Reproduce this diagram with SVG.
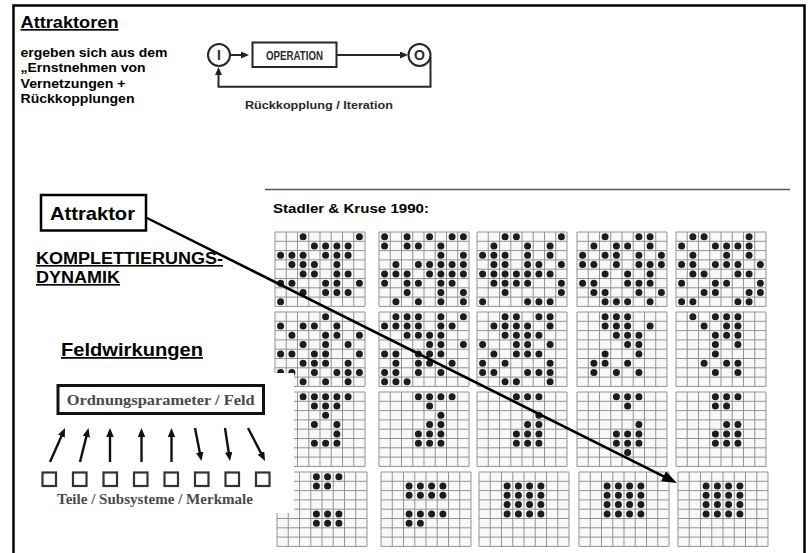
<svg xmlns="http://www.w3.org/2000/svg" xmlns:xlink="http://www.w3.org/1999/xlink" width="811" height="553" viewBox="0 0 811 553">
<style>
.t{font-family:"Liberation Sans",Arial,Helvetica,sans-serif;font-weight:bold;fill:#000}
.u{text-decoration:underline}
.op{fill:#2a2a2a}
.sf{font-family:"Liberation Serif","Times New Roman",serif;font-weight:bold;fill:#4a4a4a}
.dots{fill:none;stroke:#1c1c1c;stroke-width:7;stroke-linecap:round}
.gl{fill:none;stroke:#939393;stroke-width:1}
.opl{fill:none;stroke:#262626;stroke-width:2}
.pa{fill:none;stroke:#111;stroke-width:2.4}
.sq{fill:#fff;stroke:#333;stroke-width:2.2}
</style>
<defs>
<g id="grid"><rect width="90" height="74.4" fill="#f8f8f8"/><path class="gl" d="M0 0v74.4M11.25 0v74.4M22.5 0v74.4M33.75 0v74.4M45 0v74.4M56.25 0v74.4M67.5 0v74.4M78.75 0v74.4M90 0v74.4M0 0h90M0 9.3h90M0 18.6h90M0 27.9h90M0 37.2h90M0 46.5h90M0 55.8h90M0 65.1h90M0 74.4h90"/></g>
<marker id="ahb" viewBox="0 0 15 11" refX="9" refY="5.5" markerWidth="15" markerHeight="11" markerUnits="userSpaceOnUse" orient="auto"><path d="M0 0L15 5.5L0 11z" fill="#000"/></marker>
<marker id="ahs" viewBox="0 0 8 7" refX="4" refY="3.5" markerWidth="8" markerHeight="7" markerUnits="userSpaceOnUse" orient="auto"><path d="M0 0L8 3.5L0 7z" fill="#222"/></marker>
<marker id="ahp" viewBox="0 0 9 7.5" refX="5" refY="3.75" markerWidth="9" markerHeight="7.5" markerUnits="userSpaceOnUse" orient="auto"><path d="M0 0L9 3.75L0 7.5z" fill="#111"/></marker>
</defs>
<rect width="811" height="553" fill="#fff"/>
<path d="M13.5 553V5.5H804.5V553" fill="none" stroke="#000" stroke-width="2.5"/>

<g id="title">
<text class="t u" x="20.5" y="28" font-size="16.5" textLength="98" lengthAdjust="spacingAndGlyphs">Attraktoren</text>
<text class="t" x="20.5" y="56.5" font-size="13" textLength="147" lengthAdjust="spacingAndGlyphs">ergeben sich aus dem</text>
<text class="t" x="20.5" y="72" font-size="13" textLength="125" lengthAdjust="spacingAndGlyphs">„Ernstnehmen von</text>
<text class="t" x="20.5" y="87.5" font-size="13" textLength="105" lengthAdjust="spacingAndGlyphs">Vernetzungen +</text>
<text class="t" x="20.5" y="103" font-size="13" textLength="114" lengthAdjust="spacingAndGlyphs">Rückkopplungen</text>
</g>

<g id="node-input">
<circle class="opl" cx="219" cy="55" r="11" fill="#fff"/>
<text class="t op" x="219" y="60" font-size="14" text-anchor="middle">I</text>
</g>
<g id="node-operation">
<rect class="opl" x="252.5" y="42.5" width="84" height="24.5" fill="#fff"/>
<text class="t op" x="294.5" y="59.5" font-size="12" text-anchor="middle" textLength="57" lengthAdjust="spacingAndGlyphs">OPERATION</text>
</g>
<g id="node-output">
<circle class="opl" cx="419.5" cy="55" r="11" fill="#fff"/>
<text class="t op" x="419.5" y="60" font-size="14" text-anchor="middle">O</text>
</g>
<g id="label-feedback">
<text class="t op" x="245" y="109" font-size="11" textLength="148" lengthAdjust="spacingAndGlyphs">Rückkopplung / Iteration</text>
</g>

<g id="node-attraktor">
<rect x="41" y="195" width="105" height="35.5" fill="#fff" stroke="#000" stroke-width="2.5"/>
<text class="t" x="50" y="220" font-size="18.5" textLength="85" lengthAdjust="spacingAndGlyphs">Attraktor</text>
</g>
<g id="komplettierung">
<text class="t u" x="36" y="264" font-size="16" textLength="187" lengthAdjust="spacingAndGlyphs">KOMPLETTIERUNGS-</text>
<text class="t u" x="36" y="283" font-size="16" textLength="84" lengthAdjust="spacingAndGlyphs">DYNAMIK</text>
</g>
<g id="feldwirkungen-title">
<text class="t u" x="61" y="356" font-size="17.5" textLength="142" lengthAdjust="spacingAndGlyphs">Feldwirkungen</text>
</g>

<g id="stadler">
<line x1="265" y1="189.5" x2="790" y2="189.5" stroke="#555" stroke-width="1.5"/>
<text class="t" x="273" y="213" font-size="13.5" textLength="156" lengthAdjust="spacingAndGlyphs">Stadler &amp; Kruse 1990:</text>
</g>

<g id="grid-1-1" transform="translate(275,232)"><use xlink:href="#grid" href="#grid"/><path class="dots" d="M28.1 4.7h0M84.4 4.7h0M39.4 14h0M50.6 14h0M61.9 14h0M73.1 14h0M5.6 23.3h0M16.9 23.3h0M28.1 23.3h0M50.6 23.3h0M61.9 23.3h0M73.1 23.3h0M16.9 32.6h0M28.1 32.6h0M39.4 32.6h0M61.9 32.6h0M28.1 41.9h0M39.4 41.9h0M61.9 41.9h0M73.1 41.9h0M5.6 51.2h0M16.9 51.2h0M50.6 51.2h0M61.9 51.2h0M84.4 51.2h0M28.1 60.5h0M50.6 60.5h0M61.9 60.5h0M73.1 60.5h0M5.6 69.8h0"/></g>
<g id="grid-1-2" transform="translate(379,232)"><use xlink:href="#grid" href="#grid"/><path class="dots" d="M5.6 4.7h0M28.1 4.7h0M50.6 4.7h0M73.1 4.7h0M84.4 4.7h0M5.6 14h0M28.1 14h0M39.4 14h0M61.9 14h0M61.9 23.3h0M84.4 23.3h0M16.9 32.6h0M39.4 32.6h0M50.6 32.6h0M61.9 32.6h0M73.1 32.6h0M84.4 32.6h0M5.6 41.9h0M16.9 41.9h0M28.1 41.9h0M50.6 41.9h0M61.9 41.9h0M73.1 41.9h0M84.4 41.9h0M5.6 51.2h0M28.1 51.2h0M39.4 51.2h0M61.9 51.2h0M73.1 51.2h0M28.1 60.5h0M61.9 60.5h0M84.4 60.5h0M16.9 69.8h0M39.4 69.8h0M61.9 69.8h0M84.4 69.8h0"/></g>
<g id="grid-1-3" transform="translate(477,232)"><use xlink:href="#grid" href="#grid"/><path class="dots" d="M28.1 4.7h0M39.4 4.7h0M84.4 4.7h0M16.9 14h0M50.6 14h0M73.1 14h0M5.6 23.3h0M16.9 23.3h0M28.1 23.3h0M50.6 23.3h0M73.1 23.3h0M16.9 32.6h0M28.1 32.6h0M50.6 32.6h0M61.9 32.6h0M84.4 32.6h0M5.6 41.9h0M16.9 41.9h0M28.1 41.9h0M39.4 41.9h0M50.6 41.9h0M61.9 41.9h0M73.1 41.9h0M16.9 51.2h0M28.1 51.2h0M39.4 51.2h0M50.6 51.2h0M84.4 51.2h0M28.1 60.5h0M84.4 60.5h0M5.6 69.8h0M50.6 69.8h0M61.9 69.8h0M73.1 69.8h0"/></g>
<g id="grid-1-4" transform="translate(577,232)"><use xlink:href="#grid" href="#grid"/><path class="dots" d="M28.1 4.7h0M61.9 4.7h0M73.1 4.7h0M16.9 14h0M39.4 14h0M50.6 14h0M73.1 14h0M5.6 23.3h0M28.1 23.3h0M39.4 23.3h0M61.9 23.3h0M84.4 23.3h0M5.6 32.6h0M16.9 32.6h0M39.4 32.6h0M61.9 32.6h0M73.1 32.6h0M84.4 32.6h0M28.1 41.9h0M50.6 41.9h0M73.1 41.9h0M5.6 51.2h0M16.9 51.2h0M50.6 51.2h0M61.9 51.2h0M73.1 51.2h0M16.9 60.5h0M28.1 60.5h0M61.9 60.5h0M84.4 60.5h0M28.1 69.8h0M39.4 69.8h0M50.6 69.8h0M73.1 69.8h0"/></g>
<g id="grid-1-5" transform="translate(676,232)"><use xlink:href="#grid" href="#grid"/><path class="dots" d="M16.9 4.7h0M28.1 4.7h0M73.1 4.7h0M5.6 14h0M39.4 14h0M50.6 14h0M61.9 14h0M73.1 14h0M16.9 23.3h0M50.6 23.3h0M73.1 23.3h0M5.6 32.6h0M16.9 32.6h0M39.4 32.6h0M50.6 32.6h0M61.9 32.6h0M84.4 32.6h0M16.9 41.9h0M28.1 41.9h0M61.9 41.9h0M73.1 41.9h0M5.6 51.2h0M39.4 51.2h0M50.6 51.2h0M84.4 51.2h0M28.1 60.5h0M39.4 60.5h0M73.1 60.5h0M84.4 60.5h0M5.6 69.8h0M16.9 69.8h0M61.9 69.8h0M73.1 69.8h0"/></g>

<g id="grid-2-1" transform="translate(275,312)"><use xlink:href="#grid" href="#grid"/><path class="dots" d="M50.6 4.7h0M5.6 14h0M28.1 14h0M39.4 14h0M61.9 14h0M16.9 23.3h0M50.6 23.3h0M61.9 23.3h0M84.4 23.3h0M28.1 32.6h0M50.6 32.6h0M73.1 32.6h0M5.6 41.9h0M16.9 41.9h0M39.4 41.9h0M50.6 41.9h0M84.4 41.9h0M28.1 51.2h0M39.4 51.2h0M50.6 51.2h0M73.1 51.2h0M5.6 60.5h0M16.9 60.5h0M39.4 60.5h0M61.9 60.5h0M73.1 60.5h0M84.4 60.5h0M28.1 69.8h0M50.6 69.8h0M73.1 69.8h0"/></g>
<g id="grid-2-2" transform="translate(379,312)"><use xlink:href="#grid" href="#grid"/><path class="dots" d="M16.9 4.7h0M28.1 4.7h0M39.4 4.7h0M61.9 4.7h0M84.4 4.7h0M5.6 14h0M16.9 14h0M28.1 14h0M39.4 14h0M61.9 14h0M73.1 14h0M28.1 23.3h0M39.4 23.3h0M50.6 23.3h0M61.9 23.3h0M50.6 32.6h0M61.9 32.6h0M84.4 32.6h0M5.6 41.9h0M16.9 41.9h0M39.4 41.9h0M50.6 41.9h0M61.9 41.9h0M16.9 51.2h0M39.4 51.2h0M50.6 51.2h0M73.1 51.2h0M5.6 60.5h0M16.9 60.5h0M39.4 60.5h0M61.9 60.5h0M5.6 69.8h0M16.9 69.8h0M28.1 69.8h0"/></g>
<g id="grid-2-3" transform="translate(477,312)"><use xlink:href="#grid" href="#grid"/><path class="dots" d="M28.1 4.7h0M39.4 4.7h0M61.9 4.7h0M73.1 4.7h0M16.9 14h0M28.1 14h0M39.4 14h0M50.6 14h0M73.1 14h0M28.1 23.3h0M39.4 23.3h0M50.6 23.3h0M61.9 23.3h0M5.6 32.6h0M39.4 32.6h0M50.6 32.6h0M73.1 32.6h0M16.9 41.9h0M39.4 41.9h0M50.6 41.9h0M61.9 41.9h0M5.6 51.2h0M28.1 51.2h0M73.1 51.2h0M5.6 60.5h0M16.9 60.5h0M50.6 60.5h0M61.9 60.5h0M73.1 60.5h0M28.1 69.8h0M39.4 69.8h0M73.1 69.8h0"/></g>
<g id="grid-2-4" transform="translate(577,312)"><use xlink:href="#grid" href="#grid"/><path class="dots" d="M28.1 4.7h0M39.4 4.7h0M50.6 4.7h0M28.1 14h0M39.4 14h0M50.6 14h0M73.1 14h0M39.4 23.3h0M50.6 23.3h0M61.9 23.3h0M50.6 32.6h0M61.9 32.6h0M28.1 41.9h0M61.9 41.9h0M16.9 51.2h0M28.1 51.2h0M50.6 51.2h0M16.9 60.5h0M39.4 60.5h0M61.9 60.5h0"/></g>
<g id="grid-2-5" transform="translate(676,312)"><use xlink:href="#grid" href="#grid"/><path class="dots" d="M16.9 4.7h0M39.4 4.7h0M50.6 4.7h0M61.9 4.7h0M28.1 14h0M50.6 14h0M61.9 14h0M39.4 23.3h0M50.6 23.3h0M61.9 23.3h0M39.4 32.6h0M61.9 32.6h0M39.4 41.9h0M28.1 51.2h0M50.6 51.2h0M61.9 51.2h0M39.4 60.5h0M61.9 60.5h0"/></g>

<g id="grid-3-1" transform="translate(275,392)"><use xlink:href="#grid" href="#grid"/><path class="dots" d="M28.1 4.7h0M39.4 4.7h0M50.6 4.7h0M61.9 4.7h0M73.1 4.7h0M39.4 14h0M50.6 14h0M61.9 14h0M50.6 23.3h0M39.4 32.6h0M61.9 32.6h0M61.9 41.9h0M39.4 51.2h0M50.6 51.2h0M61.9 51.2h0"/></g>
<g id="grid-3-2" transform="translate(379,392)"><use xlink:href="#grid" href="#grid"/><path class="dots" d="M39.4 4.7h0M50.6 4.7h0M61.9 4.7h0M73.1 4.7h0M50.6 14h0M61.9 23.3h0M50.6 32.6h0M61.9 32.6h0M39.4 41.9h0M50.6 41.9h0M61.9 41.9h0M39.4 51.2h0M50.6 51.2h0M61.9 51.2h0"/></g>
<g id="grid-3-3" transform="translate(477,392)"><use xlink:href="#grid" href="#grid"/><path class="dots" d="M39.4 4.7h0M50.6 4.7h0M61.9 4.7h0M61.9 23.3h0M50.6 32.6h0M61.9 32.6h0M39.4 41.9h0M50.6 41.9h0M61.9 41.9h0M39.4 51.2h0M50.6 51.2h0M61.9 51.2h0"/></g>
<g id="grid-3-4" transform="translate(577,392)"><use xlink:href="#grid" href="#grid"/><path class="dots" d="M39.4 4.7h0M50.6 4.7h0M61.9 4.7h0M50.6 14h0M61.9 32.6h0M39.4 41.9h0M50.6 41.9h0M61.9 41.9h0M39.4 51.2h0M50.6 51.2h0M61.9 51.2h0M50.6 60.5h0"/></g>
<g id="grid-3-5" transform="translate(676,392)"><use xlink:href="#grid" href="#grid"/><path class="dots" d="M39.4 4.7h0M50.6 4.7h0M61.9 4.7h0M39.4 14h0M50.6 14h0M50.6 32.6h0M61.9 32.6h0M39.4 41.9h0M50.6 41.9h0M61.9 41.9h0M39.4 51.2h0M50.6 51.2h0M61.9 51.2h0"/></g>

<g id="grid-4-1" transform="translate(277,472)"><use xlink:href="#grid" href="#grid"/><path class="dots" d="M39.4 4.7h0M50.6 4.7h0M61.9 4.7h0M39.4 14h0M50.6 14h0M39.4 41.9h0M50.6 41.9h0M61.9 41.9h0M39.4 51.2h0M50.6 51.2h0M61.9 51.2h0"/></g>
<g id="grid-4-2" transform="translate(381,472)"><use xlink:href="#grid" href="#grid"/><path class="dots" d="M28.1 14h0M39.4 14h0M50.6 14h0M61.9 14h0M28.1 23.3h0M39.4 23.3h0M50.6 23.3h0M61.9 23.3h0M28.1 41.9h0M39.4 41.9h0M50.6 41.9h0M61.9 41.9h0M28.1 51.2h0M39.4 51.2h0"/></g>
<g id="grid-4-3" transform="translate(479,472)"><use xlink:href="#grid" href="#grid"/><path class="dots" d="M28.1 14h0M39.4 14h0M50.6 14h0M61.9 14h0M28.1 23.3h0M39.4 23.3h0M50.6 23.3h0M61.9 23.3h0M28.1 32.6h0M39.4 32.6h0M50.6 32.6h0M61.9 32.6h0M28.1 41.9h0M39.4 41.9h0M50.6 41.9h0M61.9 41.9h0"/></g>
<g id="grid-4-4" transform="translate(579,472)"><use xlink:href="#grid" href="#grid"/><path class="dots" d="M28.1 14h0M39.4 14h0M50.6 14h0M61.9 14h0M28.1 23.3h0M39.4 23.3h0M50.6 23.3h0M61.9 23.3h0M28.1 32.6h0M39.4 32.6h0M50.6 32.6h0M61.9 32.6h0M28.1 41.9h0M39.4 41.9h0M50.6 41.9h0M61.9 41.9h0"/></g>
<g id="grid-4-5" transform="translate(678,472)"><use xlink:href="#grid" href="#grid"/><path class="dots" d="M28.1 14h0M39.4 14h0M50.6 14h0M61.9 14h0M28.1 23.3h0M39.4 23.3h0M50.6 23.3h0M61.9 23.3h0M28.1 32.6h0M39.4 32.6h0M50.6 32.6h0M61.9 32.6h0M28.1 41.9h0M39.4 41.9h0M50.6 41.9h0M61.9 41.9h0"/></g>

<g id="panel-feld">
<rect x="16" y="373" width="278" height="140" fill="#fff"/>
</g>
<g id="node-ordnungsparameter">
<rect x="58" y="385.5" width="205.5" height="28" fill="#fff" stroke="#111" stroke-width="3"/>
<text class="sf" x="160.7" y="404.5" font-size="15.5" text-anchor="middle" textLength="188" lengthAdjust="spacingAndGlyphs">Ordnungsparameter / Feld</text>
</g>
<g id="node-teile">
<rect class="sq" x="42.5" y="472.5" width="13.5" height="13.5"/>
<rect class="sq" x="73" y="472.5" width="13.5" height="13.5"/>
<rect class="sq" x="103.5" y="472.5" width="13.5" height="13.5"/>
<rect class="sq" x="134" y="472.5" width="13.5" height="13.5"/>
<rect class="sq" x="164.5" y="472.5" width="13.5" height="13.5"/>
<rect class="sq" x="195" y="472.5" width="13.5" height="13.5"/>
<rect class="sq" x="225.5" y="472.5" width="13.5" height="13.5"/>
<rect class="sq" x="256" y="472.5" width="13.5" height="13.5"/>
<text class="sf" x="155" y="503.5" font-size="15" text-anchor="middle" textLength="196" lengthAdjust="spacingAndGlyphs">Teile / Subsysteme / Merkmale</text>
</g>

<g id="connectors">
<line class="opl" x1="230" y1="55" x2="245" y2="55" marker-end="url(#ahs)"/>
<line class="opl" x1="336.5" y1="55" x2="404" y2="55" marker-end="url(#ahs)"/>
<path class="opl" d="M430.5 57V86.7H218.5V71" marker-end="url(#ahs)"/>
<line class="pa" x1="50" y1="462" x2="63.4" y2="431.7" marker-end="url(#ahp)"/>
<line class="pa" x1="80" y1="462" x2="87.5" y2="431.9" marker-end="url(#ahp)"/>
<line class="pa" x1="110" y1="462" x2="110" y2="432" marker-end="url(#ahp)"/>
<line class="pa" x1="141.5" y1="462" x2="141.5" y2="432" marker-end="url(#ahp)"/>
<line class="pa" x1="171.5" y1="462" x2="171.5" y2="432" marker-end="url(#ahp)"/>
<line class="pa" x1="195" y1="428" x2="200.7" y2="457.1" marker-end="url(#ahp)"/>
<line class="pa" x1="225" y1="428" x2="229.4" y2="457" marker-end="url(#ahp)"/>
<line class="pa" x1="248" y1="428" x2="263.2" y2="457.4" marker-end="url(#ahp)"/>
<line x1="146" y1="217.5" x2="671.6" y2="480.3" stroke="#000" stroke-width="2.5" marker-end="url(#ahb)"/>
</g>
</svg>
